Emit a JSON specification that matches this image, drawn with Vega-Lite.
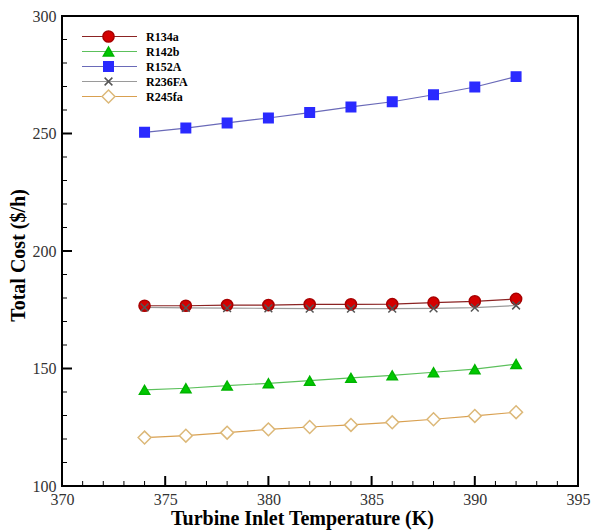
{
  "$schema": "https://vega.github.io/schema/vega-lite/v6.json",
  "width": 516,
  "height": 470,
  "autosize": {"type": "none"},
  "padding": {"left": 62, "top": 16, "right": 14, "bottom": 46},
  "background": "white",
  "config": {
    "view": {"stroke": "#000000", "strokeWidth": 2},
    "font": "Liberation Serif"
  },
  "datasets": {
    "main": [
      {"T": 374, "cost": 176.7, "fluid": "R134a"},
      {"T": 376, "cost": 176.7, "fluid": "R134a"},
      {"T": 378, "cost": 177.0, "fluid": "R134a"},
      {"T": 380, "cost": 177.0, "fluid": "R134a"},
      {"T": 382, "cost": 177.3, "fluid": "R134a"},
      {"T": 384, "cost": 177.3, "fluid": "R134a"},
      {"T": 386, "cost": 177.4, "fluid": "R134a"},
      {"T": 388, "cost": 178.0, "fluid": "R134a"},
      {"T": 390, "cost": 178.6, "fluid": "R134a"},
      {"T": 392, "cost": 179.6, "fluid": "R134a"},
      {"T": 374, "cost": 176.0, "fluid": "R236FA"},
      {"T": 376, "cost": 175.8, "fluid": "R236FA"},
      {"T": 378, "cost": 175.7, "fluid": "R236FA"},
      {"T": 380, "cost": 175.6, "fluid": "R236FA"},
      {"T": 382, "cost": 175.5, "fluid": "R236FA"},
      {"T": 384, "cost": 175.5, "fluid": "R236FA"},
      {"T": 386, "cost": 175.5, "fluid": "R236FA"},
      {"T": 388, "cost": 175.6, "fluid": "R236FA"},
      {"T": 390, "cost": 175.9, "fluid": "R236FA"},
      {"T": 392, "cost": 176.8, "fluid": "R236FA"},
      {"T": 374, "cost": 140.9, "fluid": "R142b"},
      {"T": 376, "cost": 141.6, "fluid": "R142b"},
      {"T": 378, "cost": 142.7, "fluid": "R142b"},
      {"T": 380, "cost": 143.7, "fluid": "R142b"},
      {"T": 382, "cost": 144.8, "fluid": "R142b"},
      {"T": 384, "cost": 146.0, "fluid": "R142b"},
      {"T": 386, "cost": 147.1, "fluid": "R142b"},
      {"T": 388, "cost": 148.4, "fluid": "R142b"},
      {"T": 390, "cost": 149.7, "fluid": "R142b"},
      {"T": 392, "cost": 151.9, "fluid": "R142b"},
      {"T": 374, "cost": 250.5, "fluid": "R152A"},
      {"T": 376, "cost": 252.3, "fluid": "R152A"},
      {"T": 378, "cost": 254.5, "fluid": "R152A"},
      {"T": 380, "cost": 256.6, "fluid": "R152A"},
      {"T": 382, "cost": 258.9, "fluid": "R152A"},
      {"T": 384, "cost": 261.3, "fluid": "R152A"},
      {"T": 386, "cost": 263.5, "fluid": "R152A"},
      {"T": 388, "cost": 266.5, "fluid": "R152A"},
      {"T": 390, "cost": 269.8, "fluid": "R152A"},
      {"T": 392, "cost": 274.2, "fluid": "R152A"},
      {"T": 374, "cost": 120.6, "fluid": "R245fa"},
      {"T": 376, "cost": 121.4, "fluid": "R245fa"},
      {"T": 378, "cost": 122.7, "fluid": "R245fa"},
      {"T": 380, "cost": 124.1, "fluid": "R245fa"},
      {"T": 382, "cost": 125.1, "fluid": "R245fa"},
      {"T": 384, "cost": 126.0, "fluid": "R245fa"},
      {"T": 386, "cost": 127.1, "fluid": "R245fa"},
      {"T": 388, "cost": 128.4, "fluid": "R245fa"},
      {"T": 390, "cost": 129.8, "fluid": "R245fa"},
      {"T": 392, "cost": 131.4, "fluid": "R245fa"}
    ],
    "xmajor": [{"v": 375}, {"v": 380}, {"v": 385}, {"v": 390}],
    "xminor": [{"v": 371}, {"v": 372}, {"v": 373}, {"v": 374}, {"v": 376}, {"v": 377}, {"v": 378}, {"v": 379}, {"v": 381}, {"v": 382}, {"v": 383}, {"v": 384}, {"v": 386}, {"v": 387}, {"v": 388}, {"v": 389}, {"v": 391}, {"v": 392}, {"v": 393}, {"v": 394}],
    "ymajor": [{"v": 150}, {"v": 200}, {"v": 250}],
    "yminor": [{"v": 110}, {"v": 120}, {"v": 130}, {"v": 140}, {"v": 160}, {"v": 170}, {"v": 180}, {"v": 190}, {"v": 210}, {"v": 220}, {"v": 230}, {"v": 240}, {"v": 260}, {"v": 270}, {"v": 280}, {"v": 290}]
  },
  "data": {"name": "main"},
  "layer": [
    {
      "mark": {"type": "line", "strokeWidth": 1.2},
      "encoding": {
        "x": {
          "field": "T", "type": "quantitative",
          "title": "Turbine Inlet Temperature (K)",
          "scale": {"domain": [370, 395], "nice": false, "zero": false},
          "axis": {
            "orient": "bottom", "grid": false, "domain": false, "ticks": false, "tickSize": 0,
            "values": [370, 375, 380, 385, 390, 395],
            "labelFontSize": 16, "labelColor": "#333333", "labelFont": "Liberation Serif",
            "labelPadding": 5, "labelFlush": false,
            "titleFont": "Liberation Serif", "titleFontSize": 20, "titleFontWeight": "bold",
            "titleColor": "#000000", "titlePadding": 1, "titleX": 240
          }
        },
        "y": {
          "field": "cost", "type": "quantitative",
          "title": "Total Cost ($/h)",
          "scale": {"domain": [100, 300], "nice": false, "zero": false},
          "axis": {
            "orient": "left", "grid": false, "domain": false, "ticks": false, "tickSize": 0,
            "values": [100, 150, 200, 250, 300],
            "labelFontSize": 16, "labelColor": "#333333", "labelFont": "Liberation Serif",
            "labelPadding": 6, "labelFlush": false,
            "titleFont": "Liberation Serif", "titleFontSize": 20, "titleFontWeight": "bold",
            "titleColor": "#000000", "titlePadding": 4, "titleY": 239
          }
        },
        "stroke": {
          "field": "fluid", "type": "nominal",
          "scale": {
            "domain": ["R134a", "R142b", "R152A", "R236FA", "R245fa"],
            "range": ["#8b2323", "#5cc05c", "#6a6ab8", "#9a9a9a", "#d9a050"]
          },
          "legend": {
            "orient": "none", "legendX": 19, "legendY": 13,
            "title": null, "padding": 0,
            "symbolType": "stroke", "symbolSize": 3025, "symbolStrokeWidth": 1.2,
            "clipHeight": 15, "rowPadding": 0,
            "labelExpr": "''", "labelOpacity": 0
          }
        }
      }
    },
    {
      "mark": {"type": "point", "filled": false, "strokeWidth": 1.5, "opacity": 1},
      "encoding": {
        "x": {"field": "T", "type": "quantitative", "title": "Turbine Inlet Temperature (K)"},
        "y": {"field": "cost", "type": "quantitative", "title": "Total Cost ($/h)"},
        "color": {
          "field": "fluid", "type": "nominal",
          "scale": {
            "range": ["#a80000", "#00b400", "#2a2aff", "#555555", "#dcb878"]
          },
          "legend": {
            "orient": "top-left", "offset": 13, "padding": 0, "title": null,
            "symbolOffset": 26, "labelOffset": 30, "clipHeight": 15, "rowPadding": 0,
            "labelFont": "Liberation Serif", "labelFontSize": 12, "labelFontWeight": "bold", "labelColor": "#000000",
            "symbolStrokeWidth": 1.5
          }
        },
        "fill": {
          "field": "fluid", "type": "nominal",
          "scale": {
            "range": ["#d40000", "#00c800", "#2a2aff", "transparent", "#ffffff"]
          },
          "legend": {
            "orient": "top-left", "offset": 13, "padding": 0, "title": null,
            "symbolOffset": 26, "labelOffset": 30, "clipHeight": 15, "rowPadding": 0,
            "labelFont": "Liberation Serif", "labelFontSize": 12, "labelFontWeight": "bold", "labelColor": "#000000",
            "symbolStrokeWidth": 1.5
          }
        },
        "shape": {
          "field": "fluid", "type": "nominal",
          "scale": {
            "range": ["circle", "triangle-up", "square", "M-1,-1L1,1M-1,1L1,-1", "diamond"]
          },
          "legend": {
            "orient": "top-left", "offset": 13, "padding": 0, "title": null,
            "symbolOffset": 26, "labelOffset": 30, "clipHeight": 15, "rowPadding": 0,
            "labelFont": "Liberation Serif", "labelFontSize": 12, "labelFontWeight": "bold", "labelColor": "#000000",
            "symbolStrokeWidth": 1.5
          }
        },
        "size": {
          "field": "fluid", "type": "nominal",
          "scale": {
            "type": "ordinal",
            "range": [125, 105, 90, 60, 165]
          },
          "legend": {
            "orient": "top-left", "offset": 13, "padding": 0, "title": null,
            "symbolOffset": 26, "labelOffset": 30, "clipHeight": 15, "rowPadding": 0,
            "labelFont": "Liberation Serif", "labelFontSize": 12, "labelFontWeight": "bold", "labelColor": "#000000",
            "symbolStrokeWidth": 1.5
          }
        }
      }
    },
    {
      "data": {"name": "xmajor"},
      "mark": {"type": "tick", "orient": "vertical", "size": 10, "thickness": 2, "yOffset": -5, "color": "#000000", "opacity": 1},
      "encoding": {
        "x": {"field": "v", "type": "quantitative", "title": "Turbine Inlet Temperature (K)"},
        "y": {"datum": 100, "type": "quantitative", "title": "Total Cost ($/h)"}
      }
    },
    {
      "data": {"name": "xminor"},
      "mark": {"type": "tick", "orient": "vertical", "size": 5, "thickness": 1, "yOffset": -2.5, "color": "#000000", "opacity": 1},
      "encoding": {
        "x": {"field": "v", "type": "quantitative", "title": "Turbine Inlet Temperature (K)"},
        "y": {"datum": 100, "type": "quantitative", "title": "Total Cost ($/h)"}
      }
    },
    {
      "data": {"name": "ymajor"},
      "mark": {"type": "tick", "orient": "horizontal", "size": 10, "thickness": 2, "xOffset": 5, "color": "#000000", "opacity": 1},
      "encoding": {
        "y": {"field": "v", "type": "quantitative", "title": "Total Cost ($/h)"},
        "x": {"datum": 370, "type": "quantitative", "title": "Turbine Inlet Temperature (K)"}
      }
    },
    {
      "data": {"name": "yminor"},
      "mark": {"type": "tick", "orient": "horizontal", "size": 5, "thickness": 1, "xOffset": 2.5, "color": "#000000", "opacity": 1},
      "encoding": {
        "y": {"field": "v", "type": "quantitative", "title": "Total Cost ($/h)"},
        "x": {"datum": 370, "type": "quantitative", "title": "Turbine Inlet Temperature (K)"}
      }
    }
  ]
}
